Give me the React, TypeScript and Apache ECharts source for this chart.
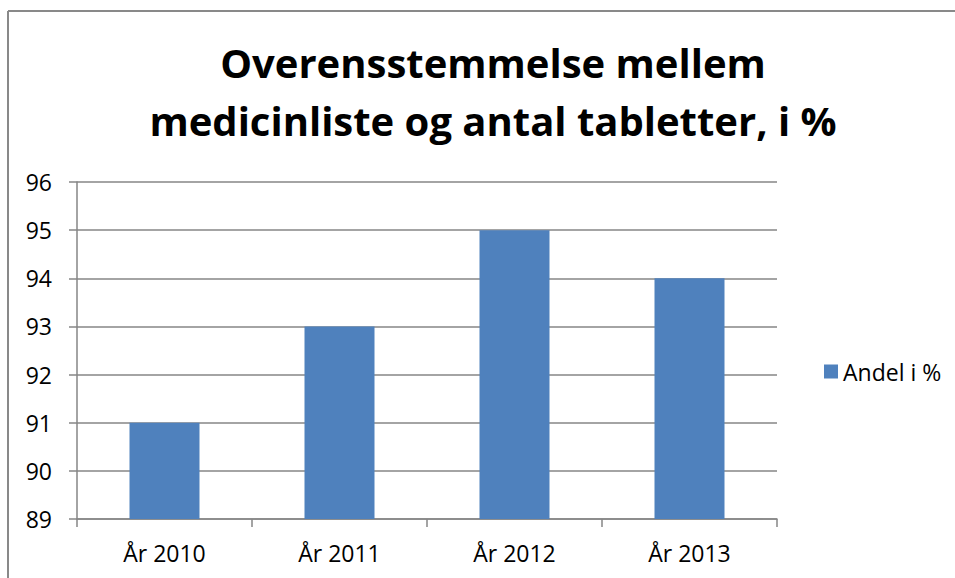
import React, { useEffect, useRef } from "react";
import * as echarts from "echarts";

const categories = ["År 2010", "År 2011", "År 2012", "År 2013"];
const values = [91, 93, 95, 94];
const seriesName = "Andel i %";
const titleLines = ["Overensstemmelse mellem", "medicinliste og antal tabletter, i %"];
const yMin = 89;
const yMax = 96;
const yStep = 1;

export default function App() {
  const ref = useRef<HTMLDivElement>(null);
  useEffect(() => {
    if (!ref.current) return;
    const chart = echarts.init(ref.current, null, { renderer: "svg" });
    const font = "'Open Sans', sans-serif";
    const gray = "#868686";
    chart.setOption({
      animation: false,
      backgroundColor: "#ffffff",
      textStyle: { fontFamily: font },
      title: {
        text: titleLines.join("\n"),
        left: 488,
        top: 28,
        textAlign: "center",
        textStyle: {
          fontFamily: font,
          fontSize: 40,
          fontWeight: "bold",
          color: "#000",
          lineHeight: 58,
        },
      },
      legend: {
        data: [seriesName],
        left: 819,
        top: 355,
        icon: "rect",
        itemWidth: 14,
        itemHeight: 14,
        itemGap: 0,
        textStyle: { fontFamily: font, fontSize: 23, color: "#000" },
      },
      grid: { left: 77, right: 178, top: 182, bottom: 59, containLabel: false },
      xAxis: {
        type: "category",
        data: categories,
        boundaryGap: true,
        axisLine: { show: true, lineStyle: { color: gray, width: 1.5 } },
        axisTick: { show: true, length: 8, alignWithLabel: false, lineStyle: { color: gray, width: 1.5 } },
        axisLabel: { fontFamily: font, fontSize: 23, color: "#000", margin: 22 },
      },
      yAxis: {
        type: "value",
        min: yMin,
        max: yMax,
        interval: yStep,
        axisLine: { show: true, lineStyle: { color: gray, width: 1.5 } },
        axisTick: { show: true, length: 8, lineStyle: { color: gray, width: 1.5 } },
        splitLine: { show: true, lineStyle: { color: gray, width: 1.5 } },
        axisLabel: { fontFamily: font, fontSize: 23, color: "#000", margin: 25 },
      },
      series: [
        {
          name: seriesName,
          type: "bar",
          data: values,
          barWidth: "40%",
          itemStyle: { color: "#4F81BD" },
        },
      ],
      graphic: [
        { type: "line", shape: { x1: 8, y1: 11, x2: 8, y2: 578 }, style: { stroke: "#898989", lineWidth: 2 } },
        { type: "line", shape: { x1: 8, y1: 11, x2: 955, y2: 11 }, style: { stroke: "#898989", lineWidth: 2 } },
      ],
    });
    return () => chart.dispose();
  }, []);
  return (
    <div
      ref={ref}
      style={{ position: "fixed", left: 0, top: 0, width: 955, height: 578 }}
    />
  );
}
